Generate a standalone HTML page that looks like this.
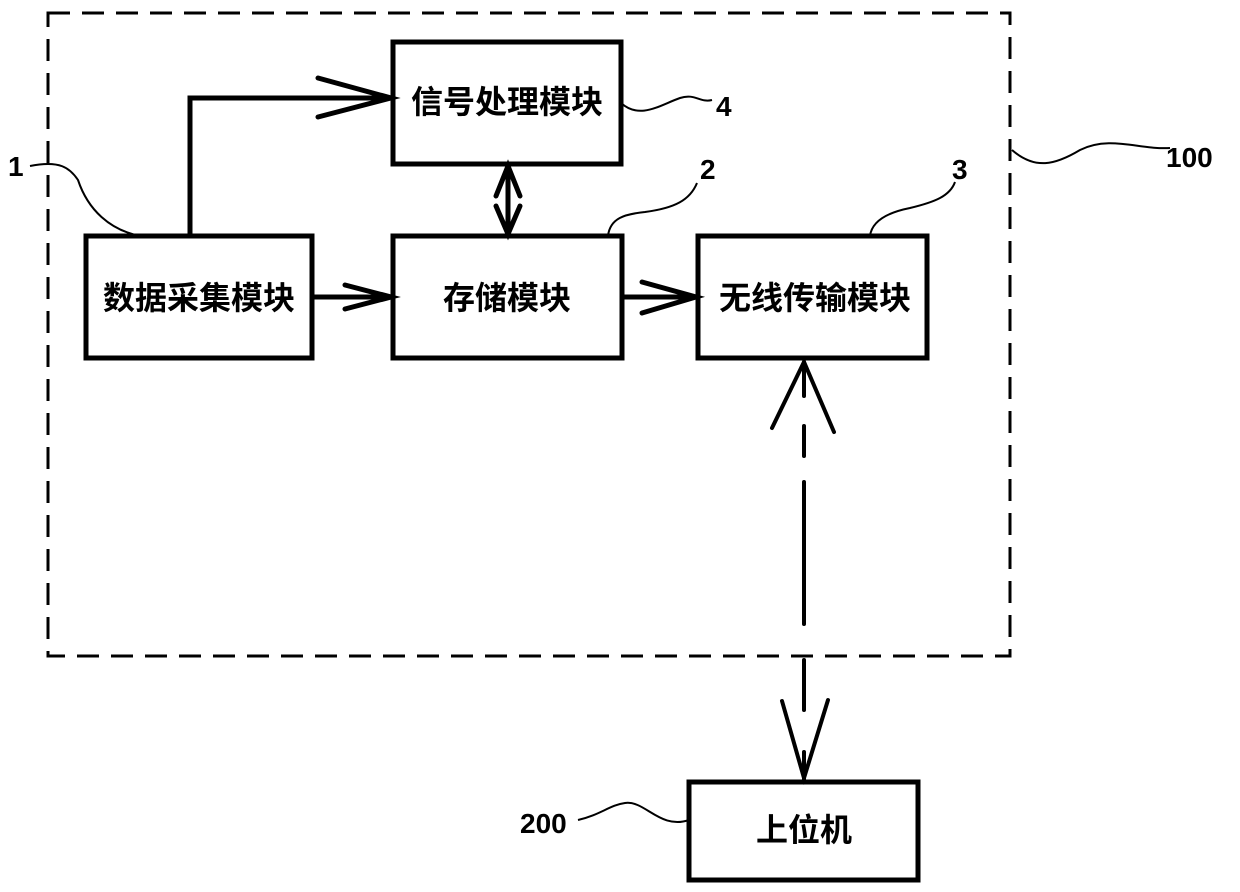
<!DOCTYPE html>
<html><head><meta charset="utf-8"><style>
body{margin:0;background:#fff;}
svg{display:block;}
text{font-family:"Liberation Sans","Noto Sans CJK SC",sans-serif;font-weight:bold;fill:#000;}
</style></head><body>
<svg width="1240" height="892" viewBox="0 0 1240 892">
<rect x="48" y="13" width="962" height="643" fill="none" stroke="#000" stroke-width="3" stroke-dasharray="22,12"/>
<g fill="none" stroke="#000" stroke-width="5">
<rect x="393" y="42" width="228" height="122"/>
<rect x="86" y="236" width="226" height="122"/>
<rect x="393" y="236" width="229" height="122"/>
<rect x="698" y="236" width="229" height="122"/>
<rect x="689" y="782" width="229" height="98"/>
</g>
<g fill="none" stroke="#000" stroke-width="5" stroke-linecap="round">
<path d="M190 236 V98 H391"/>
<path d="M318 78 L391 98 L318 117"/>
<path d="M312 297 H391"/>
<path d="M345 285 L391 297 L345 309"/>
<path d="M622 297 H696"/>
<path d="M642 282 L696 297 L642 313"/>
<path d="M508 166 V234"/>
<path d="M496 196 L508 166 L520 196"/>
<path d="M496 206 L508 234 L520 206"/>
</g>
<g fill="none" stroke="#000" stroke-width="4" stroke-linecap="round">
<path d="M804 362 V396 M804 426 V456 M804 482 V624 M804 660 V710 M804 752 V780"/>
<path d="M772 428 L804 362 L834 432"/>
<path d="M782 701 L804 778 L828 700"/>
</g>
<g fill="none" stroke="#000" stroke-width="2">
<path d="M30 166 C60 160 70 168 78 180 C88 210 110 230 140 236"/>
<path d="M621 103 C640 120 660 105 680 98 C695 93 700 103 712 100"/>
<path d="M608 236 C610 218 625 214 645 212 C675 208 690 200 697 183"/>
<path d="M870 236 C872 220 890 212 910 208 C935 202 950 196 955 182"/>
<path d="M1012 150 C1035 170 1055 165 1080 150 C1110 135 1140 150 1170 148"/>
<path d="M578 820 C600 815 610 805 625 803 C645 800 660 830 689 820"/>
</g>
<text x="8" y="176" font-size="28">1</text>
<text x="716" y="116" font-size="28">4</text>
<text x="700" y="179" font-size="28">2</text>
<text x="952" y="179" font-size="28">3</text>
<text x="1166" y="167" font-size="28">100</text>
<text x="520" y="833" font-size="28">200</text>
<text x="507" y="113" font-size="32" text-anchor="middle">信号处理模块</text>
<text x="199" y="309" font-size="32" text-anchor="middle">数据采集模块</text>
<text x="507" y="309" font-size="32" text-anchor="middle">存储模块</text>
<text x="815" y="309" font-size="32" text-anchor="middle">无线传输模块</text>
<text x="804" y="841" font-size="32" text-anchor="middle">上位机</text>
</svg>
</body></html>
